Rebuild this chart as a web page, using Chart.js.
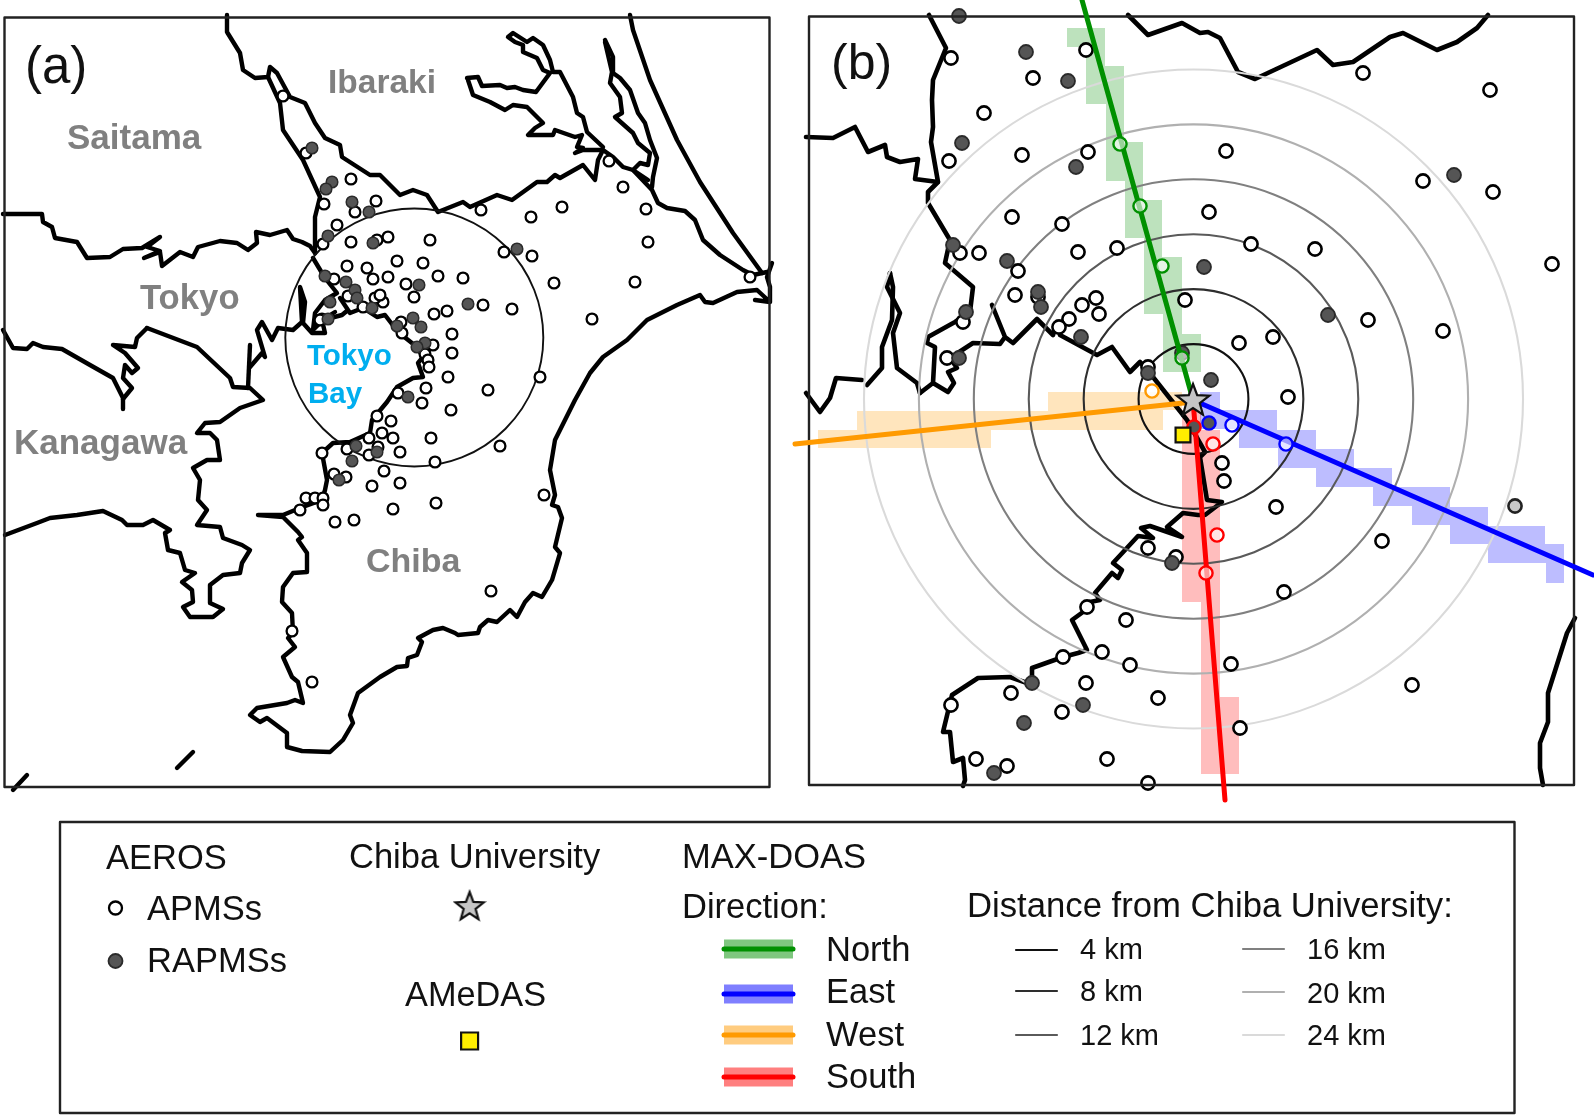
<!DOCTYPE html>
<html>
<head>
<meta charset="utf-8">
<title>Chiba map</title>
<script src="https://cdn.jsdelivr.net/npm/chart.js@4"></script>
<style>
  html, body { margin: 0; padding: 0; background: #fff; }
  canvas { display: block; }
</style>
</head>
<body>
<canvas id="chart-map" width="1594" height="1116"></canvas>
<script>

// panel (a) coast and prefecture lines
const coastA = [
  [[227,15],[227,32],[240,53],[243,70],[255,78],[268,77],[270,67],[277,73],[290,97],[305,103],[315,123],[325,138],[340,145],[342,157],[370,175],[380,175],[400,195],[413,190],[427,195],[438,212],[463,202],[470,207],[497,195],[512,200],[537,182],[547,182],[555,175],[560,178],[583,165],[595,180],[598,160],[603,150]],
  [[268,77],[280,103],[283,130],[303,160],[320,197],[315,217],[315,253]],
  [[3,214],[42,214],[43,222],[52,227],[55,238],[77,242],[87,258],[110,257],[123,249],[142,248],[160,237],[147,247],[160,251],[144,258],[160,252],[162,266],[180,252],[193,257],[198,247],[220,241],[237,243],[248,250],[257,243],[256,232],[270,235],[287,230],[293,239],[302,242],[310,246],[315,253]],
  [[313,258],[325,278],[337,293],[325,300],[315,313],[313,330],[323,320],[342,315],[348,310],[340,298],[350,313],[363,308],[377,317],[385,315],[398,332],[417,347],[423,357],[418,363],[423,377],[413,378],[397,387],[387,402],[372,420],[370,433],[350,442],[333,443],[322,453],[327,480],[325,490],[322,500],[300,508],[283,515],[258,515],[283,517],[298,532],[302,537],[298,540],[307,553],[307,572],[293,573],[283,587],[282,602],[292,613],[293,633],[288,638],[295,647],[283,657],[292,677],[298,682],[303,703],[295,700],[287,703],[257,708],[250,715],[260,722],[267,718],[287,733],[287,747],[302,751],[330,752],[343,740],[353,723],[350,715],[358,693],[380,677],[397,667],[407,666],[408,658],[417,655],[422,642],[418,638],[433,630],[443,628],[455,633],[458,635],[478,633],[480,627],[488,620],[497,622],[510,610],[517,617],[525,602],[533,593],[542,597],[552,580],[560,553],[555,547],[562,518],[558,507],[552,505],[555,495],[550,470],[555,440],[575,400],[590,373],[603,357],[627,340],[647,320],[677,305],[700,295],[705,302],[713,303],[737,292],[757,290],[770,302],[755,300],[770,302],[770,287],[767,277],[772,263]],
  [[467,78],[478,77],[482,86],[500,85],[507,88],[515,87],[523,90],[536,92],[550,73],[543,70],[537,58],[523,52],[523,45],[515,42],[508,37],[513,33],[527,42],[533,38],[543,45],[550,60],[553,72],[560,72],[573,97],[577,113],[583,117],[587,132],[603,147]],
  [[468,80],[473,95],[490,102],[505,110],[513,105],[527,107],[543,123],[535,128],[528,135],[542,135],[553,135],[555,130],[575,137],[582,135],[577,147],[583,148],[575,153],[583,150],[603,150],[613,157],[623,167],[633,170],[652,190],[658,203],[667,208],[685,211],[695,220],[703,240],[720,255],[743,270],[753,275],[767,272]],
  [[605,40],[613,57],[613,73],[620,78],[630,90],[638,113],[645,123],[650,140],[657,158],[653,177],[652,187]],
  [[605,42],[612,72],[610,83],[620,97],[622,113],[615,117],[633,133],[638,143],[650,153],[648,165],[640,163],[633,170],[648,180]],
  [[630,15],[633,30],[650,80],[677,140],[700,182],[733,233],[762,273]],
  [[3,330],[13,348],[27,349],[33,343],[43,347],[62,349],[90,365],[113,378],[123,398],[123,409]],
  [[147,328],[137,338],[135,347],[113,345],[125,353],[138,368],[132,373],[125,365],[123,378],[132,388],[123,399]],
  [[147,328],[197,347],[230,378],[233,387],[250,388],[263,400],[240,408],[220,422],[205,423],[197,433],[210,433],[217,440],[220,460],[207,460],[193,468],[200,480],[198,500],[207,510],[197,525],[220,527],[223,538],[242,545],[250,550],[242,563],[240,573],[223,575],[210,585],[210,603],[223,609],[213,617],[190,617],[183,607],[193,602],[192,590],[182,582],[195,573],[185,570],[180,553],[168,550],[165,533],[170,530],[153,520],[143,525],[127,525],[122,520],[103,511],[77,515],[50,518],[37,523],[5,535]],
  [[250,367],[262,353],[265,357],[257,330],[262,322],[272,340],[278,328],[293,330],[302,322],[300,287],[305,302],[303,323],[312,333],[325,333],[322,320],[335,312]],
  [[250,345],[248,388]],
  [[177,768],[193,752]],
  [[13,790],[27,775]]
];

// panel (b) coast and prefecture lines
const coastB = [
  [[929,15],[946,48],[933,80],[932,100],[933,127],[931,142],[938,182],[928,192],[928,203],[950,240],[945,263],[973,287],[970,312],[955,322],[928,337],[927,343],[935,347],[933,383],[920,393],[933,383],[948,392],[954,383],[948,372],[957,368],[950,358],[973,343],[1000,344],[1005,337],[992,305],[1005,337],[1013,343],[1037,319],[1053,335],[1057,322],[1060,335],[1097,355],[1112,347],[1130,372],[1140,362],[1153,377],[1187,420],[1205,452],[1200,457],[1207,500],[1222,502],[1205,515],[1198,515],[1183,513],[1167,527],[1182,537],[1150,526],[1141,528],[1153,538],[1138,536],[1113,563],[1122,570],[1118,578],[1112,573],[1095,593],[1100,600],[1090,602],[1083,612],[1072,620],[1087,650],[1078,653],[1063,657],[1032,668],[1032,677],[1027,683],[1010,677],[978,678],[952,695],[943,732],[950,732],[953,762],[963,758],[965,780],[963,786]],
  [[806,137],[833,138],[855,127],[868,152],[885,145],[887,157],[900,162],[918,159],[915,179],[938,182]],
  [[890,273],[887,287],[900,313],[893,333],[897,368],[917,383],[920,393]],
  [[890,273],[893,287],[892,320],[882,347],[882,368],[867,385]],
  [[806,393],[820,412],[830,398],[836,378],[862,380]],
  [[1128,15],[1148,35],[1182,23],[1200,33],[1208,32],[1220,38],[1238,72],[1255,79],[1317,50],[1333,65],[1353,62],[1390,37],[1403,33],[1437,50],[1457,42],[1477,28],[1488,15]],
  [[1575,618],[1567,633],[1548,693],[1548,722],[1540,743],[1540,768],[1543,785]]
];

// AEROS stations
const apmsA = [[283,96],[306,153],[351,179],[376,201],[324,204],[355,212],[337,225],[351,242],[388,237],[377,240],[323,244],[347,266],[367,268],[373,279],[388,277],[397,261],[334,279],[348,296],[383,302],[375,298],[380,295],[322,319],[430,240],[423,263],[406,284],[438,276],[463,278],[414,297],[434,314],[447,311],[452,334],[452,353],[448,377],[426,388],[363,307],[401,322],[402,333],[433,345],[425,354],[428,360],[429,367],[320,320],[398,393],[609,161],[623,187],[646,209],[648,242],[635,282],[750,277],[592,319],[554,283],[562,207],[531,217],[481,210],[504,252],[532,256],[512,309],[540,377],[488,390],[483,305],[422,403],[451,410],[431,438],[500,446],[400,452],[435,462],[400,483],[436,503],[544,495],[491,591],[377,416],[391,421],[382,433],[393,438],[369,438],[378,447],[369,455],[347,449],[322,453],[384,471],[334,474],[346,477],[372,486],[306,498],[315,498],[323,498],[323,505],[300,510],[393,509],[335,522],[354,520],[292,631],[312,682]];
const rapmsA = [[312,148],[332,182],[326,189],[352,202],[369,212],[328,236],[373,243],[325,276],[346,282],[355,290],[357,298],[330,302],[372,308],[328,319],[397,326],[419,285],[413,318],[421,327],[425,343],[417,347],[468,304],[408,397],[517,249],[356,446],[377,452],[352,461],[339,480]];
const apmsB = [[951,58],[1086,50],[1033,78],[984,113],[949,161],[1022,155],[1088,152],[1012,217],[1062,224],[1078,252],[1117,248],[979,253],[960,253],[1018,271],[1015,295],[1038,297],[963,322],[947,358],[1082,305],[1096,298],[1099,314],[1069,319],[1059,327],[1185,300],[1148,367],[1363,73],[1490,90],[1226,151],[1423,181],[1493,192],[1209,212],[1251,244],[1315,249],[1552,264],[1368,320],[1443,331],[1273,337],[1239,343],[1288,397],[1222,463],[1224,481],[1276,507],[1382,541],[1284,592],[1231,664],[1412,685],[1240,728],[1148,548],[1176,557],[1087,607],[1126,620],[1102,652],[1130,665],[1063,657],[1086,683],[1011,693],[1158,698],[951,705],[1062,712],[976,759],[1107,759],[1007,766],[1148,783]];
const rapmsB = [[959,16],[1026,52],[1068,81],[962,143],[1076,167],[953,245],[1007,261],[1038,292],[1041,307],[966,312],[959,358],[1081,337],[1148,373],[1182,353],[1204,267],[1454,175],[1328,315],[1211,380],[1172,563],[1032,683],[1083,705],[1024,723],[994,773]];
const rapmsGray = [[1515,506]];

// stations on the MAX-DOAS lines, ringed in the direction colour
const ringedNorth = [[1120,144],[1140,206],[1162,266],[1182,358]];
const ringedEast = [[1232,425],[1286,444]];
const ringedEastDark = [[1209,423]];
const ringedWest = [[1152,391]];
const ringedSouth = [[1213,444],[1217,535],[1206,573]];
const ringedSouthDark = [[1194,427]];

// MAX-DOAS viewing lines
const lineNorth = [[1082,0],[1193,400]];
const lineEast = [[1193,400],[1593,575]];
const lineWest = [[1193,402],[795,444]];
const lineSouth = [[1193,400],[1225,800]];

// sensitivity cells along each line
const cellsNorth = [[1067,28],[1105,28],[1105,66],[1124,66],[1124,142],[1143,142],[1143,200],[1162,200],[1162,257],[1182,257],[1182,334],[1201,334],[1201,372],[1163,372],[1163,314],[1144,314],[1144,238],[1125,238],[1125,181],[1106,181],[1106,104],[1086,104],[1086,47],[1067,47]];
const cellsEast = [[1200,392],[1220,392],[1220,410],[1277,410],[1277,430],[1316,430],[1316,449],[1354,449],[1354,468],[1392,468],[1392,487],[1450,487],[1450,507],[1488,507],[1488,526],[1545,526],[1545,544],[1564,544],[1564,583],[1546,583],[1546,563],[1488,563],[1488,544],[1450,544],[1450,525],[1412,525],[1412,506],[1373,506],[1373,487],[1316,487],[1316,468],[1278,468],[1278,448],[1239,448],[1239,429],[1200,429]];
const cellsWest = [[1048,392],[1182,392],[1182,410],[1163,410],[1163,430],[991,430],[991,448],[818,448],[818,430],[857,430],[857,411],[1048,411]];
const cellsSouth = [[1182,410],[1201,410],[1201,430],[1220,430],[1220,697],[1239,697],[1239,774],[1201,774],[1201,602],[1182,602]];

const chibaUniv = [[1193,400]];
const amedas = [[1183,435]];

// distance rings
const ringCentre = [[1193.5,399]];
const ringKm = [4, 8, 12, 16, 20, 24];
const ringColors = ['#111111', '#2e2e2e', '#5a5a5a', '#808080', '#b0b0b0', '#dadada'];
const kmToAxis = 13.73;
const bayCircleCentre = [[414.3,337.5]];
const bayCircleRadius = 129;

// legend words
const directionNames = ['North', 'East', 'West', 'South'];
const directionColors = ['#009000', '#0000ff', '#ff9a00', '#ff0000'];
const directionBands = ['rgba(0,144,0,0.26)', 'rgba(0,0,255,0.26)', 'rgba(255,154,0,0.26)', 'rgba(255,0,0,0.26)'];
const ringNames = ['4 km', '8 km', '12 km', '16 km', '20 km', '24 km'];

const toXY = pts => pts.map(p => ({ x: p[0], y: p[1] }));

function polyline(pts, color, width) {
  return {
    data: toXY(pts), showLine: true, pointRadius: 0, borderColor: color, borderWidth: width,
    borderJoinStyle: 'round', borderCapStyle: 'round', fill: false, tension: 0, clip: false
  };
}

function polygon(pts, color) {
  return {
    data: toXY(pts.concat([pts[0]])), showLine: true, pointRadius: 0, borderWidth: 0,
    borderColor: 'transparent', backgroundColor: color, fill: 'shape', tension: 0, clip: false
  };
}

function dots(pts, fill, edge, radius, width) {
  return {
    data: toXY(pts), showLine: false, pointStyle: 'circle', pointRadius: radius,
    backgroundColor: fill, borderColor: edge, borderWidth: width, clip: false
  };
}

function box(x0, y0, x1, y1, width) {
  return polyline([[x0,y0],[x1,y0],[x1,y1],[x0,y1],[x0,y0]], '#222222', width);
}

function starSprite(size) {
  const c = document.createElement('canvas');
  c.width = c.height = size;
  const g = c.getContext('2d');
  const mid = size / 2, outer = size / 2 - 2, inner = outer * 0.42;
  g.beginPath();
  for (let i = 0; i < 10; i++) {
    const r = i % 2 ? inner : outer;
    const a = -Math.PI / 2 + i * Math.PI / 5;
    g.lineTo(mid + r * Math.cos(a), mid + 1 + r * Math.sin(a));
  }
  g.closePath();
  g.fillStyle = '#c6c6c6';
  g.fill();
  g.lineWidth = 2.2;
  g.lineJoin = 'miter';
  g.strokeStyle = '#111111';
  g.stroke();
  return c;
}

function marker(pts, style, radius, fill) {
  return {
    data: toXY(pts), showLine: false, pointStyle: style, pointRadius: radius,
    backgroundColor: fill, borderColor: '#111111', borderWidth: 2.2, clip: false
  };
}

// paint order, first entry ends up at the bottom
const layers = [];

// panel (a)
coastA.forEach(c => layers.push(polyline(c, '#000000', 4.4)));
layers.push(dots(bayCircleCentre, 'transparent', '#111111', bayCircleRadius, 1.9));
layers.push(dots(apmsA, '#ffffff', '#000000', 5.4, 2.3));
layers.push(dots(rapmsA, '#555555', '#2a2a2a', 5.8, 1.5));
layers.push(box(4.5, 17.5, 769.5, 787, 2.4));

// panel (b)
[cellsNorth, cellsEast, cellsWest, cellsSouth].forEach((c, i) => layers.push(polygon(c, directionBands[i])));
coastB.forEach(c => layers.push(polyline(c, '#000000', 4.6)));
ringKm.slice().reverse().forEach((km, i) => {
  const color = ringColors[ringKm.length - 1 - i];
  layers.push(dots(ringCentre, 'transparent', color, km * kmToAxis, 2.1));
});
layers.push(dots(apmsB, '#ffffff', '#000000', 6.6, 2.6));
layers.push(dots(rapmsB, '#555555', '#2a2a2a', 7, 1.8));
layers.push(dots(rapmsGray, '#c8c8c8', '#222222', 6.6, 2.6));
layers.push(box(809, 16.5, 1574, 785, 2.4));
layers.push(polyline(lineNorth, directionColors[0], 5));
layers.push(polyline(lineEast, directionColors[1], 5));
layers.push(polyline(lineWest, directionColors[2], 5));
layers.push(polyline(lineSouth, directionColors[3], 5));
layers.push(dots(ringedNorth, 'rgba(255,255,255,0.6)', directionColors[0], 6.6, 2.4));
layers.push(dots(ringedEast, 'rgba(255,255,255,0.6)', directionColors[1], 6.6, 2.4));
layers.push(dots(ringedEastDark, '#555555', directionColors[1], 6.6, 2.4));
layers.push(dots(ringedWest, 'rgba(255,255,255,0.85)', directionColors[2], 6.6, 2.4));
layers.push(dots(ringedSouth, 'rgba(255,255,255,0.6)', directionColors[3], 6.6, 2.4));
layers.push(dots(ringedSouthDark, '#555555', directionColors[3], 6.6, 2.4));
layers.push(marker(amedas, 'rect', 10.5, '#ffee00'));
layers.push(marker(chibaUniv, starSprite(38), 19, '#c6c6c6'));

// legend frame and keys
layers.push(box(60, 822, 1514.5, 1113, 2.4));
layers.push(dots([[115.5,908]], '#ffffff', '#000000', 6.5, 2.3));
layers.push(dots([[115.5,961]], '#555555', '#2a2a2a', 7, 1.8));
layers.push(marker([[469.6,906]], starSprite(34), 17, '#c6c6c6'));
layers.push(marker([[469.6,1041]], 'rect', 12, '#ffee00'));

const legendBandY = [949, 994, 1035, 1077];
legendBandY.forEach((y, i) => {
  layers.push(polygon([[724,y-9.5],[793,y-9.5],[793,y+9.5],[724,y+9.5]], directionBands[i].replace('0.26', '0.5')));
  layers.push(polyline([[724,y],[793,y]], directionColors[i], 5));
});

const legendRingY = [950, 991, 1035, 949, 992, 1035];
ringKm.forEach((km, i) => {
  const x0 = i < 3 ? 1016 : 1243;
  layers.push(polyline([[x0,legendRingY[i]],[x0+41,legendRingY[i]]], ringColors[i], 2.2));
});

layers.forEach((d, i) => { d.order = layers.length - i; });

// every text on the figure goes through the axes too
const FONT = '"Liberation Sans", Arial, sans-serif';
const GREY = '#808080';
const INK = '#111111';
const labels = [
  ['(a)', 25, 83, '51px', INK],
  ['(b)', 831, 79, '50px', INK],
  ['Saitama', 67, 149, 'bold 35px', GREY],
  ['Ibaraki', 328, 93, 'bold 33.5px', GREY],
  ['Tokyo', 140, 309, 'bold 34.7px', GREY],
  ['Kanagawa', 14, 454, 'bold 35px', GREY],
  ['Chiba', 366, 572, 'bold 34px', GREY],
  ['Tokyo', 307, 365, 'bold 29.5px', '#00aeef'],
  ['Bay', 308, 403, 'bold 29.5px', '#00aeef'],
  ['AEROS', 106, 869, '34.5px', INK],
  ['APMSs', 147, 920, '34.5px', INK],
  ['RAPMSs', 147, 972, '34.5px', INK],
  ['Chiba University', 349, 868, '34.5px', INK],
  ['AMeDAS', 405, 1006, '34.3px', INK],
  ['MAX-DOAS', 682, 868, '34.5px', INK],
  ['Direction:', 682, 918, '34.5px', INK],
  ['Distance from Chiba University:', 967, 917, '34.7px', INK]
];
const directionBaseY = [961, 1003, 1046, 1088];
directionNames.forEach((t, i) => labels.push([t, 826, directionBaseY[i], '34.5px', INK]));
const ringBaseY = [959, 1001, 1045, 959, 1003, 1045];
ringNames.forEach((t, i) => labels.push([t, i < 3 ? 1080 : 1307, ringBaseY[i], '29px', INK]));

const textPlugin = {
  id: 'mapText',
  afterDatasetsDraw(chart) {
    const { ctx, scales: { x, y } } = chart;
    ctx.save();
    ctx.textAlign = 'left';
    ctx.textBaseline = 'alphabetic';
    labels.forEach(l => {
      ctx.font = l[3] + ' ' + FONT;
      ctx.fillStyle = l[4];
      ctx.fillText(l[0], x.getPixelForValue(l[1]), y.getPixelForValue(l[2]));
    });
    ctx.restore();
  }
};

new Chart(document.getElementById('chart-map'), {
  type: 'scatter',
  data: { datasets: layers },
  options: {
    responsive: false,
    animation: false,
    events: [],
    layout: { padding: 0, autoPadding: false },
    elements: { point: { hoverRadius: 0 } },
    scales: {
      x: { type: 'linear', min: 0, max: 1594, display: false },
      y: { type: 'linear', min: 0, max: 1116, reverse: true, display: false }
    },
    plugins: { legend: { display: false }, tooltip: { enabled: false } }
  },
  plugins: [textPlugin]
});
</script>
</body>
</html>
